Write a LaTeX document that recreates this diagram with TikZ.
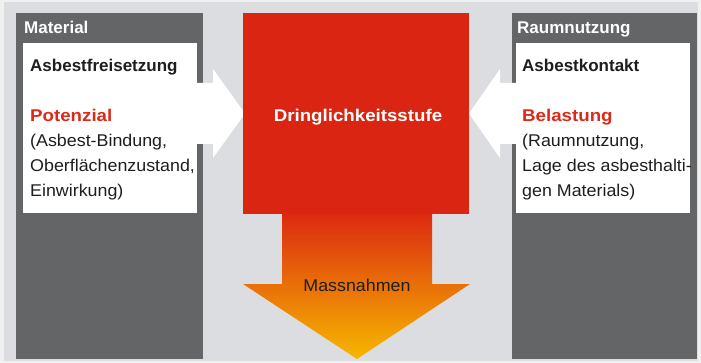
\documentclass[tikz,border=0pt]{standalone}
\usepackage{fontspec}
\setmainfont{Liberation Sans}[FakeStretch=1.05]
\newfontfamily\medf{Liberation Sans}
\newfontfamily\boldf{Liberation Sans}[FakeStretch=1.1]
\definecolor{outerbg}{HTML}{F0F0F0}
\definecolor{bg}{HTML}{DCDDE0}
\definecolor{panel}{HTML}{646567}
\definecolor{boxred}{HTML}{DA2512}
\definecolor{txtred}{HTML}{DC2A1A}
\definecolor{gtop}{HTML}{DC2A10}
\definecolor{gmid}{HTML}{EA7000}
\definecolor{gbot}{HTML}{F6B800}
\definecolor{dark}{HTML}{1E1E1E}
\begin{document}
\begin{tikzpicture}[x=1pt,y=-1pt,
  txt/.style={inner sep=0pt,anchor=base west,font=\fontsize{17}{24}\selectfont,text=dark},
  med/.style={txt,font=\fontsize{17}{24}\selectfont\medf\bfseries},
  redb/.style={txt,font=\fontsize{17}{24}\selectfont\boldf\bfseries,text=txtred},
  lab/.style={med,text=white},
  whitebox/.style={fill=white,draw=none}]
\fill[outerbg] (0,0) rectangle (701,363);
\fill[bg] (4,2) rectangle (698,361);
% panels
\fill[panel] (16,13) rectangle (203,359);
\fill[panel] (512,13) rectangle (697,359);
\fill[whitebox] (23,43) rectangle (197,213);
\fill[whitebox] (516,43) rectangle (690,213);
% white arrows
\fill[white] (196,83) -- (213,83) -- (213,69) -- (245,113.5) -- (213,158) -- (213,144) -- (196,144) -- cycle;
\fill[white] (517,83) -- (500,83) -- (500,69) -- (469,113.5) -- (500,158) -- (500,144) -- (517,144) -- cycle;
% red box and down arrow
\fill[boxred] (243,13) rectangle (469,214.5);
\shade[top color=gtop,middle color=gmid,bottom color=gbot]
  (282,214) -- (432,214) -- (432,284) -- (470,284) -- (357,359) -- (243,284) -- (282,284) -- cycle;
% texts
\node[lab] (material) at (24,34) {Material};
\node[lab] (raum) at (517,34) {Raumnutzung};
\node[med] (freis) at (30,71.5) {Asbestfreisetzung};
\node[redb] (pot) at (30,122) {Potenzial};
\node[txt] (l1) at (30,147) {(Asbest-Bindung,};
\node[txt] (l2) at (30,172) {Oberflächenzustand,};
\node[txt] (l3) at (30,197) {Einwirkung)};
\node[med] (kont) at (522,71.5) {Asbestkontakt};
\node[redb] (bel) at (522,122) {Belastung};
\node[txt] (r1) at (522,147) {(Raumnutzung,};
\node[txt] (r2) at (522,172) {Lage des asbesthalti-};
\node[txt] (r3) at (522,197) {gen Materials)};
\node[inner sep=0pt,anchor=base,font=\fontsize{17}{24}\selectfont\boldf\bfseries,text=white] (dring) at (358,122) {Dringlichkeitsstufe};
\node[inner sep=0pt,anchor=base,font=\fontsize{17}{24}\selectfont,text=dark] (mass) at (357,291) {Massnahmen};
\end{tikzpicture}
\end{document}
